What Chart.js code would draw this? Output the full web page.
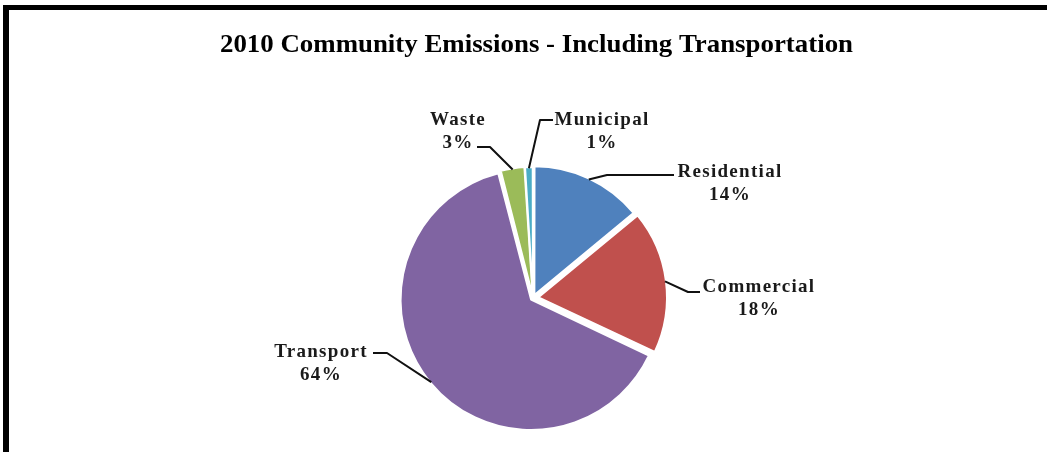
<!DOCTYPE html>
<html>
<head>
<meta charset="utf-8">
<script src="https://cdn.jsdelivr.net/npm/chart.js@4/dist/chart.umd.min.js"></script>
<style>
  html, body { margin: 0; padding: 0; background: #fff; }
  #wrap { position: relative; width: 1047px; height: 452px; overflow: hidden; background: #fff; }
  #wrap canvas { position: absolute; left: 0; top: 0; }
  /* heavy frame along the top and left edges */
  #frame { position: absolute; left: 3px; top: 5px; right: -20px; bottom: -20px;
           border-top: 5px solid #000; border-left: 6px solid #000; pointer-events: none; }
</style>
</head>
<body>
<div id="wrap">
  <canvas id="chart" width="1047" height="452"></canvas>
  <div id="frame"></div>
</div>
<script>
// Emission sectors, clockwise from 12 o'clock
const categories = ['Residential', 'Commercial', 'Transport', 'Waste', 'Municipal'];
const shares = [14, 18, 64, 3, 1];           // percent of community total
const sliceColors = ['#4F81BD', '#C0504D', '#8064A2', '#9BBB59', '#4BACC6'];
const sliceOffsets = [13, 22, 10, 7, 6];     // exploded distance per slice
const chartTitle = '2010 Community Emissions - Including Transportation';

// Callout placement: text centre, first baseline, and the leader's elbow points
const callouts = [
  { x: 730, y: 177, path: [[674, 175], [607, 175]] },
  { x: 759, y: 292, path: [[700, 292], [688, 292]] },
  { x: 321, y: 357, path: [[373, 353], [387, 353]] },
  { x: 458, y: 125, path: [[477, 147], [490, 147]] },
  { x: 602, y: 125, path: [[553, 120], [540, 120]] }
];

// Title drawn in a tall, narrow bold serif
const squeezedTitle = {
  id: 'squeezedTitle',
  afterDraw(chart, args, opts) {
    const ctx = chart.ctx;
    ctx.save();
    ctx.font = opts.font;
    const w = ctx.measureText(opts.text).width;
    ctx.translate(opts.x, opts.y);
    ctx.scale(opts.width / w, 1);
    ctx.textAlign = 'center';
    ctx.textBaseline = 'alphabetic';
    ctx.fillStyle = '#000';
    ctx.fillText(opts.text, 0, 0);
    ctx.restore();
  }
};

// Category / percentage labels with leader lines to each slice's outer edge
const sliceCallouts = {
  id: 'sliceCallouts',
  afterDatasetsDraw(chart, args, opts) {
    const ctx = chart.ctx;
    const meta = chart.getDatasetMeta(0);
    meta.data.forEach((arc, i) => {
      const spec = opts.items[i];
      const mid = (arc.startAngle + arc.endAngle) / 2;
      const circ = arc.endAngle - arc.startAngle;
      const off = (arc.options.offset || 0) / 4;
      const shift = off * (2 - Math.sin(Math.min(Math.PI, circ)));
      const r = arc.outerRadius + shift - 1;
      const ax = arc.x + Math.cos(mid) * r;
      const ay = arc.y + Math.sin(mid) * r;

      ctx.save();
      ctx.strokeStyle = '#111';
      ctx.lineWidth = 2;
      ctx.lineJoin = 'round';
      ctx.beginPath();
      ctx.moveTo(spec.path[0][0], spec.path[0][1]);
      spec.path.slice(1).forEach(p => ctx.lineTo(p[0], p[1]));
      ctx.lineTo(ax, ay);
      ctx.stroke();

      ctx.font = opts.font;
      if ('letterSpacing' in ctx) ctx.letterSpacing = opts.spacing;
      ctx.fillStyle = '#1a1a1a';
      ctx.textAlign = 'center';
      ctx.textBaseline = 'alphabetic';
      ctx.fillText(chart.data.labels[i], spec.x, spec.y);
      ctx.fillText(chart.data.datasets[0].data[i] + '%', spec.x, spec.y + 23);
      ctx.restore();
    });
  }
};

new Chart(document.getElementById('chart'), {
  type: 'pie',
  data: {
    labels: categories,
    datasets: [{
      data: shares,
      backgroundColor: sliceColors,
      borderColor: '#ffffff',
      borderWidth: 2,
      offset: sliceOffsets,
      hoverOffset: 0
    }]
  },
  options: {
    responsive: false,
    animation: false,
    events: [],
    radius: 128,
    layout: { padding: { left: 19, right: 0, top: 144, bottom: 0 } },
    plugins: {
      legend: { display: false },
      tooltip: { enabled: false },
      title: { display: false },
      squeezedTitle: {
        text: chartTitle,
        font: 'bold 26px "Liberation Serif"',
        x: 536.5, y: 52, width: 633
      },
      sliceCallouts: {
        items: callouts,
        font: 'bold 19px "Liberation Serif"',
        spacing: '1.3px'
      }
    }
  },
  plugins: [squeezedTitle, sliceCallouts]
});
</script>
</body>
</html>
